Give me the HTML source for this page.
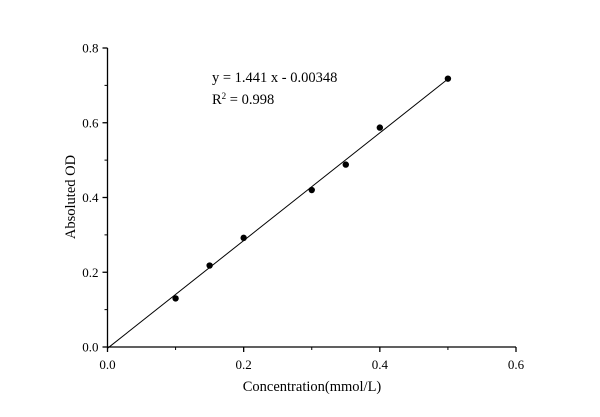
<!DOCTYPE html>
<html><head><meta charset="utf-8"><style>
html,body{margin:0;padding:0;background:#fff;}
svg{display:block;font-family:"Liberation Serif",serif;}
</style></head><body>
<svg id="chart" width="600" height="417"></svg>
<script>
const xVals=[0.1,0.15,0.2,0.3,0.35,0.4,0.5];
const yVals=[0.13,0.218,0.292,0.42,0.488,0.587,0.718];
const xTicks=[0,0.2,0.4,0.6];
const yTicks=[0,0.2,0.4,0.6,0.8];
const slope=1.441, intercept=-0.00348;
const NS="http://www.w3.org/2000/svg";
const svg=document.getElementById('chart');
const X0=107.5,X1=516,Y0=347,Y1=48;
const sx=v=>X0+(v-0)/(0.6)*(X1-X0);
const sy=v=>Y0-(v/0.8)*(Y0-Y1);
function el(t,a,txt){const e=document.createElementNS(NS,t);for(const k in a)e.setAttribute(k,a[k]);if(txt!=null)e.textContent=txt;svg.appendChild(e);return e;}
let e;
e=el('line',{x1:X0,y1:Y0,x2:X1,y2:Y0,stroke:'#000','stroke-width':1.3});


e=el('line',{x1:X0,y1:Y0,x2:X0,y2:Y1,stroke:'#000','stroke-width':1.3});


xTicks.forEach((t,i)=>{
  const x=sx(t);
  e=el('line',{x1:x,y1:Y0,x2:x,y2:Y0+5,stroke:'#000','stroke-width':1.3});
  
  
  if(i<xTicks.length-1){const m=sx(t+0.1);
    e=el('line',{x1:m,y1:Y0,x2:m,y2:Y0+3,stroke:'#000','stroke-width':1});
    
    }
  e=el('text',{x:x,y:Y0+22,'font-size':13,'text-anchor':'middle'},t.toFixed(1));
  
  
});
yTicks.forEach((t,i)=>{
  const y=sy(t);
  e=el('line',{x1:X0-5,y1:y,x2:X0,y2:y,stroke:'#000','stroke-width':1.3});
  
  
  if(i<yTicks.length-1){const m=sy(t+0.1);
    e=el('line',{x1:X0-3,y1:m,x2:X0,y2:m,stroke:'#000','stroke-width':1});
    
    }
  e=el('text',{x:X0-9,y:y+4.5,'font-size':13,'text-anchor':'end'},t.toFixed(1));
  
  
});
const xmin=0,xmax=Math.max(...xVals);
e=el('line',{x1:sx(xmin),y1:sy(slope*xmin+intercept),x2:sx(xmax),y2:sy(slope*xmax+intercept),stroke:'#000','stroke-width':1});


xVals.forEach((v,i)=>{
  e=el('circle',{cx:sx(v),cy:sy(yVals[i]),r:3.2,fill:'#000'});
  
  
});
e=el('text',{x:212,y:82,'font-size':14.5},'y = 1.441 x - 0.00348');


e=el('text',{x:212,y:104,'font-size':14.5});
e.innerHTML='R<tspan dy="-5" font-size="9">2</tspan><tspan dy="5"> = 0.998</tspan>';


e=el('text',{x:312,y:391,'font-size':14.5,'text-anchor':'middle'},'Concentration(mmol/L)');


e=el('text',{x:0,y:0,'font-size':14.5,'text-anchor':'middle',transform:'translate(75,197) rotate(-90)'},'Absoluted OD');


</script>
</body></html>
